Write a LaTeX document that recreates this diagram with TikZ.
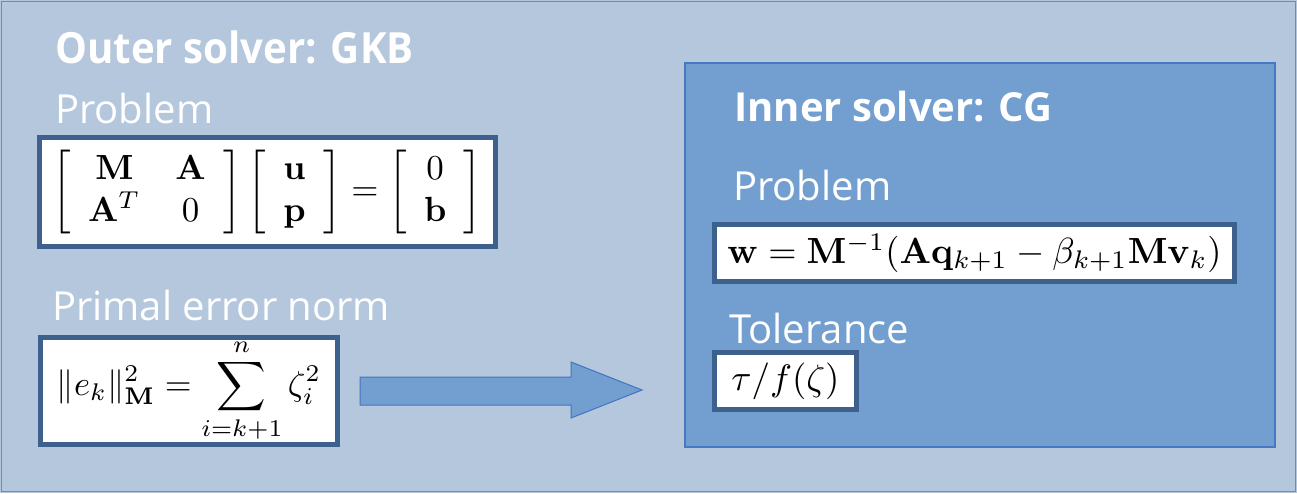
\documentclass[tikz,border=0pt]{standalone}
\usepackage[no-math]{fontspec}
\setmainfont{Open Sans}
\usepackage{amsmath}
\usepackage{graphicx}
\definecolor{outerfill}{RGB}{180,199,221}
\definecolor{outeredge}{RGB}{100,140,200}
\definecolor{innerfill}{RGB}{114,159,207}
\definecolor{inneredge}{RGB}{70,120,195}
\definecolor{boxedge}{RGB}{62,96,140}
\definecolor{arrowedge}{RGB}{68,114,196}
\tikzset{
  title/.style={anchor=base west, text=white, inner sep=0pt, font=\bfseries\fontsize{40}{46}\selectfont},
  label/.style={anchor=base west, text=white, inner sep=0pt, font=\fontsize{40}{46}\selectfont},
  mbox/.style={draw=boxedge, fill=white, line width=5pt, inner sep=0pt, outer sep=0pt},
}
\begin{document}
\begin{tikzpicture}[x=1pt,y=-1pt]
\useasboundingbox (0,0) rectangle (1297,493);
\fill[outerfill] (0,0) rectangle (1297,493);
\draw[outeredge, line width=1.5pt] (1.5,1.5) rectangle (1295.5,491.5);
\node (inner) [draw=inneredge, fill=innerfill, line width=1.2pt, minimum width=590pt, minimum height=384pt, inner sep=0pt, outer sep=0pt] at (980,255) {};

\node (otitle) [title, font=\bfseries\fontsize{43}{50}\selectfont] at (55,63) {\scalebox{0.935}[1]{Outer solver: GKB}};
\node (oprob) [label] at (55,123) {Problem};
\node (mat) [mbox, minimum width=455.5pt, minimum height=109pt] at (267.25,192)
  {\resizebox{430pt}{!}{$\left[\begin{array}{cc}\mathbf{M} & \mathbf{A}\\ \mathbf{A}^T & 0\end{array}\right]\left[\begin{array}{c}\mathbf{u}\\ \mathbf{p}\end{array}\right]=\left[\begin{array}{c}0\\ \mathbf{b}\end{array}\right]$}};
\node (perr) [label] at (52,320) {Primal error norm};
\node (norm) [mbox, minimum width=297pt, minimum height=107pt] at (189,391)
  {\resizebox{264pt}{!}{$\displaystyle \|e_k\|_{\mathbf{M}}^2=\sum_{i=k+1}^{n}\zeta_i^2$}};

\node (ititle) [title] at (734,121) {Inner solver: CG};
\node (iprob) [label] at (733,200) {Problem};
\node (wbox) [mbox, minimum width=520pt, minimum height=57pt] at (974.5,253)
  {\resizebox{494pt}{!}{$\mathbf{w}=\mathbf{M}^{-1}(\mathbf{A}\mathbf{q}_{k+1}-\beta_{k+1}\mathbf{M}\mathbf{v}_k)$}};
\node (itol) [label] at (729,343) {Tolerance};
\node (tbox) [mbox, minimum width=142pt, minimum height=57pt] at (785.5,381)
  {\resizebox{108pt}{!}{$\tau/f(\zeta)$}};

\draw[fill=innerfill, draw=arrowedge, line width=1pt]
  (360,377) -- (571,377) -- (571,362) -- (642,390) -- (571,418) -- (571,405) -- (360,405) -- cycle;
\end{tikzpicture}
\end{document}
